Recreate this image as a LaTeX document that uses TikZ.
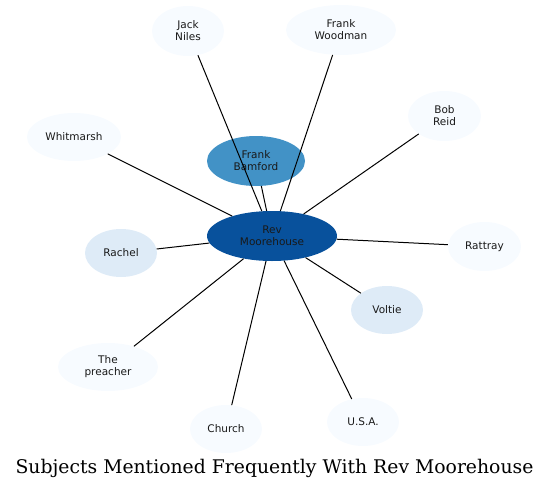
\documentclass[tikz,border=0pt]{standalone}
\usepackage{fontspec}
\setmainfont{Latin Modern Roman}
\newfontfamily\nodefont{DejaVu Sans}
\newfontfamily\titlefont{DejaVu Serif}
\usetikzlibrary{shapes.geometric}
\definecolor{cDark}{HTML}{08519C}
\definecolor{cMid}{HTML}{4292C6}
\definecolor{cLight}{HTML}{DEEBF7}
\definecolor{cPale}{HTML}{F7FBFF}
\tikzset{
  bubble/.style={ellipse, draw=none, inner sep=0pt, align=center,
    font=\nodefont\fontsize{10.5}{12}\selectfont, text=black!90},
  link/.style={draw=black, line width=1pt}
}
\begin{document}
\begin{tikzpicture}[x=1pt,y=-1pt]
\useasboundingbox (0,0) rectangle (549,490);
\node[bubble, fill=cDark, minimum width=130, minimum height=50] (rev) at (272,236) {Rev\\Moorehouse};
\node[bubble, fill=cMid, minimum width=98, minimum height=50] (bam) at (256,161) {Frank\\Bamford};
\node[bubble, fill=cPale, minimum width=72, minimum height=50] (jack) at (188,31) {Jack\\Niles};
\node[bubble, fill=cPale, minimum width=110, minimum height=50] (wood) at (341,30) {Frank\\Woodman};
\node[bubble, fill=cPale, minimum width=73, minimum height=50] (bob) at (444.5,116) {Bob\\Reid};
\node[bubble, fill=cPale, minimum width=94, minimum height=48] (whit) at (74,137) {Whitmarsh};
\node[bubble, fill=cLight, minimum width=72, minimum height=48] (rach) at (121,253) {Rachel};
\node[bubble, fill=cPale, minimum width=73, minimum height=49] (ratt) at (484.5,246.5) {Rattray};
\node[bubble, fill=cLight, minimum width=72, minimum height=48] (volt) at (387,310) {Voltie};
\node[bubble, fill=cPale, minimum width=100, minimum height=48] (prea) at (108,367) {The\\preacher};
\node[bubble, fill=cPale, minimum width=72, minimum height=48] (chur) at (226,429) {Church};
\node[bubble, fill=cPale, minimum width=72, minimum height=48] (usa) at (363,422) {U.S.A.};
\foreach \n in {bam,jack,wood,bob,whit,rach,ratt,volt,prea,chur,usa}
  \draw[link] (\n) -- (rev);
\node[font=\titlefont\fontsize{18.8}{22}\selectfont, anchor=base, inner sep=0pt] (title) at (274.5,473) {Subjects Mentioned Frequently With Rev Moorehouse};
\end{tikzpicture}
\end{document}
